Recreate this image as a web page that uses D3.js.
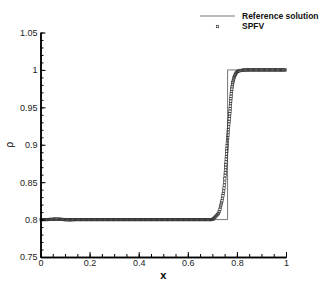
<!DOCTYPE html>
<html lang="en">
<head>
  <meta charset="utf-8">
  <title>Density profile: reference vs SPFV</title>
  <script src="https://d3js.org/d3.v7.min.js"></script>
  <style>
    body {
      margin: 0;
      background: #fff;
      font-family: "Liberation Sans", Arial, Helvetica, sans-serif;
    }
    .tick-label {
      font-size: 9px;
      fill: #222;
    }
    .legend-text {
      font-size: 8.5px;
      font-weight: bold;
      fill: #111;
    }
  </style>
</head>
<body>
  <div id="chart"></div>
  <script>
    // Reference (exact) solution: a single jump
    const refX = [0, 0.762, 0.762, 1];
    const refRho = [0.8, 0.8, 1, 1];

    // SPFV solution, left plateau on a uniform mesh (x = 0.0025 + 0.005 i)
    const leftRho = [
      0.8, 0.8, 0.8, 0.8, 0.8, 0.8, 0.8001, 0.8002, 0.8003, 0.8004,
      0.8005, 0.8006, 0.8006, 0.8006, 0.8006, 0.8005, 0.8004, 0.8003, 0.8001, 0.8,
      0.7999, 0.7998, 0.7997, 0.7997, 0.7998, 0.7998, 0.7999, 0.7999, 0.8, 0.8,
      0.8, 0.8, 0.8, 0.8, 0.8, 0.8, 0.8, 0.8, 0.8, 0.8,
      0.8, 0.8, 0.8, 0.8, 0.8, 0.8, 0.8, 0.8, 0.8, 0.8,
      0.8, 0.8, 0.8, 0.8, 0.8, 0.8, 0.8, 0.8, 0.8, 0.8,
      0.8, 0.8, 0.8, 0.8, 0.8, 0.8, 0.8, 0.8, 0.8, 0.8,
      0.8, 0.8, 0.8, 0.8, 0.8, 0.8, 0.8, 0.8, 0.8, 0.8,
      0.8, 0.8, 0.8, 0.8, 0.8, 0.8, 0.8, 0.8, 0.8, 0.8,
      0.8, 0.8, 0.8, 0.8, 0.8, 0.8, 0.8, 0.8, 0.8, 0.8,
      0.8, 0.8, 0.8, 0.8, 0.8, 0.8, 0.8, 0.8, 0.8, 0.8,
      0.8, 0.8, 0.8, 0.8, 0.8, 0.8, 0.8, 0.8, 0.8, 0.8,
      0.8, 0.8, 0.8, 0.8, 0.8, 0.8, 0.8, 0.8, 0.8, 0.8,
      0.8, 0.8, 0.8, 0.8, 0.8, 0.8, 0.8, 0.8, 0.8, 0.8
    ];

    // SPFV solution through the smeared jump
    const shockX = [
      0.702, 0.706, 0.710, 0.714, 0.718, 0.722, 0.725, 0.728, 0.731, 0.733,
      0.735, 0.737, 0.739, 0.741, 0.743, 0.7445, 0.746, 0.7475, 0.7488, 0.750,
      0.751, 0.752, 0.7528, 0.7535, 0.7543, 0.755, 0.7558, 0.7565, 0.7573, 0.758,
      0.7588, 0.7595, 0.7603, 0.761, 0.7618, 0.7626, 0.7634, 0.7642, 0.765, 0.766,
      0.767, 0.768, 0.769, 0.770, 0.771, 0.7718, 0.7725, 0.7733, 0.774, 0.7748,
      0.7755, 0.7763, 0.7772, 0.7782, 0.7793, 0.7805, 0.7818, 0.7832, 0.7848, 0.7865,
      0.7883, 0.7902, 0.7922, 0.7944, 0.7967, 0.799
    ];
    const shockRho = [
      0.8004, 0.8012, 0.8028, 0.8042, 0.8056, 0.8071, 0.8085, 0.8106, 0.814, 0.8168,
      0.8195, 0.8222, 0.8248, 0.8282, 0.8318, 0.835, 0.8382, 0.842, 0.846, 0.85,
      0.8545, 0.859, 0.8626, 0.8662, 0.8698, 0.8734, 0.877, 0.8806, 0.8842, 0.8878,
      0.8914, 0.895, 0.8986, 0.9022, 0.9058, 0.9094, 0.913, 0.9166, 0.9202, 0.9238,
      0.9274, 0.931, 0.9346, 0.938, 0.9414, 0.9448, 0.9482, 0.9516, 0.955, 0.9584,
      0.9616, 0.9648, 0.968, 0.9712, 0.9744, 0.9774, 0.9802, 0.9828, 0.9853, 0.9876,
      0.9896, 0.9914, 0.993, 0.9945, 0.9958, 0.997
    ];

    // SPFV solution, right plateau on a uniform mesh (x = 0.8025 + 0.005 i)
    const rightRho = [
      0.9979, 0.9985, 0.999, 0.9993, 0.9996, 0.9998, 0.9999, 1, 1, 1,
      1, 1, 1, 1, 1, 1, 1, 1, 1, 1,
      1, 1, 1, 1, 1, 1, 1, 1, 1, 1,
      1, 1, 1, 1, 1, 1, 1, 1, 1, 1
    ];

    const xTicks = [0, 0.2, 0.4, 0.6, 0.8, 1];
    const yTicks = [0.75, 0.8, 0.85, 0.9, 0.95, 1, 1.05];

    const width = 323, height = 287;
    const margin = {left: 40.5, right: 37, top: 32.5, bottom: 30};

    const svg = d3.select("#chart").append("svg")
      .attr("width", width)
      .attr("height", height);

    const x = d3.scaleLinear().domain([0, 1]).range([margin.left, width - margin.right]);
    const y = d3.scaleLinear().domain([0.75, 1.05]).range([height - margin.bottom, margin.top]);

    // assemble SPFV points
    const spfv = [];
    leftRho.forEach((r, i) => spfv.push({x: 0.0025 + 0.005 * i, rho: r}));
    shockX.forEach((sx, i) => spfv.push({x: sx, rho: shockRho[i]}));
    rightRho.forEach((r, i) => spfv.push({x: 0.8025 + 0.005 * i, rho: r}));

    // reference line
    const line = d3.line().x(d => x(d[0])).y(d => y(d[1]));
    svg.append("path")
      .datum(refX.map((v, i) => [v, refRho[i]]))
      .attr("d", line)
      .attr("fill", "none")
      .attr("stroke", "#777")
      .attr("stroke-width", 1);

    // SPFV squares
    const sq = 2.4;
    svg.append("g").selectAll("rect")
      .data(spfv)
      .join("rect")
      .attr("x", d => x(d.x) - sq / 2)
      .attr("y", d => y(d.rho) - sq / 2)
      .attr("width", sq)
      .attr("height", sq)
      .attr("fill", "none")
      .attr("stroke", "#333")
      .attr("stroke-width", 0.65);

    // axes (left + bottom only, ticks pointing inward)
    const xAxis = d3.axisBottom(x).tickValues(xTicks).tickSizeInner(-5).tickSizeOuter(0)
      .tickPadding(3).tickFormat(d3.format("~g"));
    const xMinor = d3.axisBottom(x).tickValues(d3.range(0, 1.0001, 0.05)).tickSizeInner(-3)
      .tickSizeOuter(0).tickFormat("");
    const yAxis = d3.axisLeft(y).tickValues(yTicks).tickSizeInner(-5).tickSizeOuter(0)
      .tickPadding(3).tickFormat(d3.format("~g"));
    const yMinor = d3.axisLeft(y).tickValues(d3.range(0.75, 1.0501, 0.01)).tickSizeInner(-3)
      .tickSizeOuter(0).tickFormat("");

    const gx = svg.append("g").attr("transform", `translate(0,${height - margin.bottom})`);
    gx.append("g").call(xMinor);
    gx.append("g").call(xAxis);
    const gy = svg.append("g").attr("transform", `translate(${margin.left},0)`);
    gy.append("g").call(yMinor);
    gy.append("g").call(yAxis);

    svg.selectAll(".domain").attr("stroke", "#000").attr("stroke-width", 1.5);
    svg.selectAll(".tick line").attr("stroke", "#000").attr("stroke-width", 1);
    svg.selectAll(".tick text").attr("class", "tick-label")
      .attr("font-family", null).attr("font-size", null);

    // axis titles
    svg.append("text")
      .attr("x", (x(0) + x(1)) / 2)
      .attr("y", 279)
      .attr("text-anchor", "middle")
      .style("font-size", "11px")
      .style("font-weight", "bold")
      .text("x");
    svg.append("text")
      .attr("transform", `translate(13,${(y(0.75) + y(1.05)) / 2}) rotate(-90)`)
      .attr("text-anchor", "middle")
      .style("font-size", "10px")
      .text("ρ");

    // legend
    const lg = svg.append("g");
    lg.append("line")
      .attr("x1", 200).attr("x2", 235).attr("y1", 16).attr("y2", 16)
      .attr("stroke", "#777").attr("stroke-width", 1);
    lg.append("text").attr("class", "legend-text")
      .attr("x", 242).attr("y", 16).attr("dy", "0.35em").text("Reference solution");
    lg.append("rect")
      .attr("x", 217.5 - sq / 2).attr("y", 26.5 - sq / 2)
      .attr("width", sq).attr("height", sq)
      .attr("fill", "none").attr("stroke", "#333").attr("stroke-width", 0.65);
    lg.append("text").attr("class", "legend-text")
      .attr("x", 242).attr("y", 26.5).attr("dy", "0.35em").text("SPFV");
  </script>
</body>
</html>
